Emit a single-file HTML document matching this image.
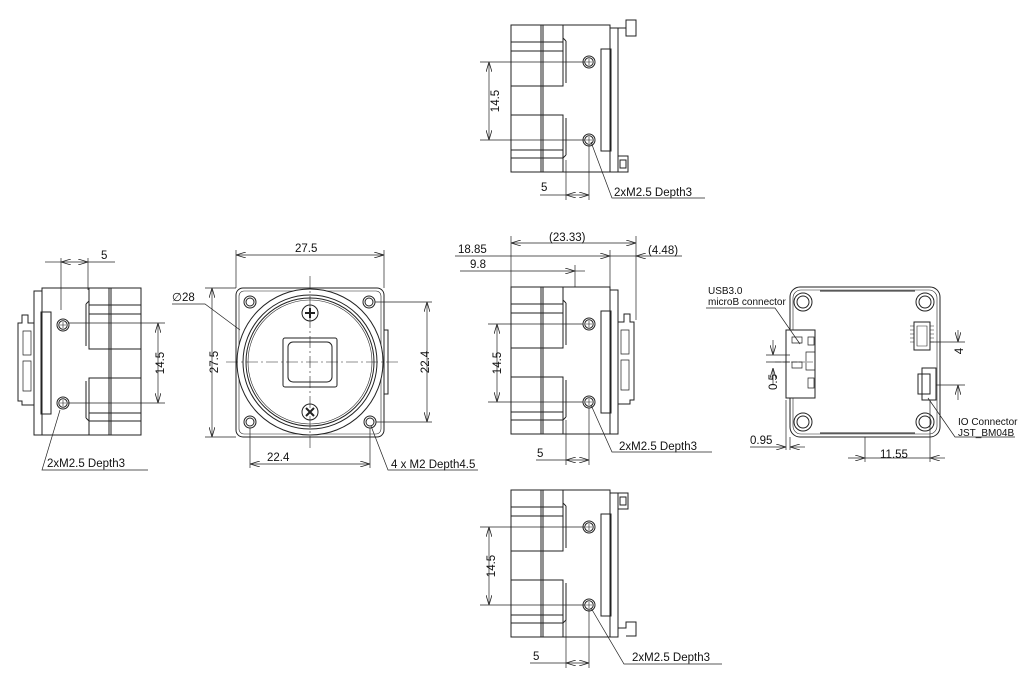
<!DOCTYPE html>
<html><head><meta charset="utf-8"><style>
body{margin:0;background:#fff}
svg{display:block}
text{font-family:"Liberation Sans",sans-serif;font-size:11.5px;fill:#111}
</style></head><body>
<svg width="1030" height="700" viewBox="0 0 1030 700" xmlns="http://www.w3.org/2000/svg">
<defs>
<marker id="a" viewBox="0 0 10 6" refX="10" refY="3" markerWidth="10" markerHeight="6" orient="auto-start-reverse" markerUnits="userSpaceOnUse"><path d="M0,0L10,3L0,6" fill="none" stroke="#222" stroke-width="0.8"/></marker>
<g id="side" fill="none" stroke="#222" stroke-width="1">
<rect x="511" y="287" width="99" height="147" fill="#fff"/>
<line x1="541" y1="287" x2="541" y2="434"/><line x1="543" y1="287" x2="543" y2="434"/>
<polyline points="563,287 563,348 511,348"/>
<polyline points="563,434 563,377 511,377"/>
<line x1="563" y1="300" x2="566" y2="303"/><line x1="563" y1="420" x2="566" y2="417"/>
<line x1="566" y1="303" x2="566" y2="345"/><line x1="566" y1="380" x2="566" y2="417"/>
<line x1="511" y1="304" x2="563" y2="304"/><line x1="511" y1="313" x2="563" y2="313"/>
<line x1="511" y1="412" x2="563" y2="412"/><line x1="511" y1="420" x2="563" y2="420"/>
<rect x="601" y="311" width="10" height="102"/>
<rect x="610" y="290" width="8" height="144"/>
<circle cx="589" cy="324" r="6"/><circle cx="589" cy="324" r="4.2"/>
<circle cx="589" cy="402" r="6"/><circle cx="589" cy="402" r="4.2"/>
<path d="M586,324h6M589,321v6M586,402h6M589,399v6" stroke-width="0.6"/>
</g>
<g id="conn" fill="none" stroke="#222" stroke-width="1">
<path d="M618,322h6v-8h6v8h4v78h-4v4h-12z"/>
<path d="M621,330h8v24h-8zM621,360h8v30h-8z" stroke-width="0.7"/>
</g>
</defs>

<!-- center side view -->
<use href="#side"/><use href="#conn"/>
<!-- top side view -->
<g transform="translate(0,-262)"><use href="#side"/>
<path d="M618,290h8v-8h10v16h-10v-8" fill="none" stroke="#222"/>
<path d="M618,418h10v16h-10z M620,422h6v8h-6z" fill="none" stroke="#222"/></g>
<!-- bottom side view -->
<g transform="translate(0,203)"><use href="#side"/>
<path d="M618,290h10v16h-10z M620,294h6v8h-6z" fill="none" stroke="#222"/>
<path d="M618,425h8v-6h10v14h-10" fill="none" stroke="#222"/></g>
<!-- left side view (mirrored) -->
<g transform="translate(652,1) scale(-1,1)"><use href="#side"/><use href="#conn"/></g>

<!-- front view -->
<g fill="none" stroke="#222" stroke-width="1">
<rect x="236" y="288" width="148" height="149" rx="7" fill="#fff"/>
<rect x="239" y="291" width="142" height="143" rx="5" stroke-width="0.6"/>
<circle cx="310" cy="362" r="73" fill="#fff"/>
<circle cx="310" cy="362" r="67"/><circle cx="310" cy="362" r="64"/><circle cx="310" cy="362" r="62" stroke-width="0.6"/>
<rect x="283" y="338" width="54" height="49" rx="2"/>
<rect x="288" y="342" width="44" height="40" rx="5"/>
<circle cx="310" cy="313" r="8"/><path d="M305,313h10M310,308v10" stroke-width="2"/>
<circle cx="310" cy="412" r="8"/><path d="M306,408l8,8M314,408l-8,8" stroke-width="2"/>
<circle cx="250" cy="302" r="6"/><circle cx="250" cy="302" r="4"/>
<circle cx="369" cy="302" r="6"/><circle cx="369" cy="302" r="4"/>
<circle cx="250" cy="422" r="6"/><circle cx="250" cy="422" r="4"/>
<circle cx="370" cy="422" r="6"/><circle cx="370" cy="422" r="4"/>
<rect x="384" y="330" width="4" height="64"/>
<path d="M226,362H398M310,276V450" stroke-width="0.6" stroke-dasharray="12,3,2,3"/>
</g>

<!-- back view -->
<g fill="none" stroke="#222" stroke-width="1">
<rect x="790" y="287" width="150" height="150" rx="10"/>
<rect x="793" y="290" width="144" height="144" rx="8" stroke-width="0.6"/>
<line x1="820" y1="291" x2="915" y2="291"/><line x1="820" y1="433" x2="915" y2="433"/>
<circle cx="803" cy="302" r="9"/><circle cx="803" cy="302" r="6"/>
<circle cx="925" cy="302" r="9"/><circle cx="925" cy="302" r="6"/>
<circle cx="803" cy="422" r="9"/><circle cx="803" cy="422" r="6"/>
<circle cx="925" cy="422" r="9"/><circle cx="925" cy="422" r="6"/>
<rect x="786" y="330" width="29" height="68" fill="#fff"/>
<path d="M792,337h10v6h-10zM792,362h10v6h-10zM808,337h6v8h-6zM808,378h6v10h-6zM806,352h9v18h-9z" stroke-width="0.7"/>
<rect x="914" y="322" width="16" height="28"/><path d="M917,326h10v20h-10z" stroke-width="0.6"/>
<path d="M910,326h4M910,330h4M910,334h4M910,338h4M910,342h4M930,326h4M930,330h4M930,334h4M930,338h4M930,342h4" stroke-width="0.6"/>
<rect x="922" y="368" width="14" height="32"/><rect x="918" y="374" width="12" height="20"/>
<path d="M775,362h40" stroke-width="0.5" stroke-dasharray="6,2"/>
</g>

<!-- dimensions -->
<g fill="none" stroke="#222" stroke-width="0.7">
<!-- top view -->
<line x1="480" y1="62" x2="585" y2="62"/><line x1="480" y1="140" x2="585" y2="140"/>
<line x1="489" y1="62" x2="489" y2="140" marker-start="url(#a)" marker-end="url(#a)"/>
<line x1="566" y1="160" x2="566" y2="200"/><line x1="589" y1="145" x2="589" y2="200"/>
<line x1="540" y1="195" x2="566" y2="195"/><line x1="566" y1="195" x2="589" y2="195" marker-start="url(#a)" marker-end="url(#a)"/>
<polyline points="591,142 612,198 705,198"/>
<!-- center view -->
<line x1="511" y1="287" x2="511" y2="236"/><line x1="636" y1="320" x2="636" y2="236"/><line x1="610" y1="287" x2="610" y2="250"/><line x1="575" y1="287" x2="575" y2="265"/>
<line x1="511" y1="243" x2="636" y2="243" marker-start="url(#a)" marker-end="url(#a)"/>
<line x1="455" y1="256" x2="610" y2="256" marker-end="url(#a)"/><line x1="610" y1="256" x2="636" y2="256"/>
<line x1="636" y1="256" x2="682" y2="256" marker-start="url(#a)"/>
<line x1="460" y1="271" x2="575" y2="271" marker-end="url(#a)"/><line x1="575" y1="271" x2="585" y2="271"/>
<line x1="488" y1="324" x2="583" y2="324"/><line x1="488" y1="402" x2="583" y2="402"/>
<line x1="497" y1="324" x2="497" y2="402" marker-start="url(#a)" marker-end="url(#a)"/>
<line x1="566" y1="420" x2="566" y2="465"/><line x1="589" y1="408" x2="589" y2="465"/>
<line x1="536" y1="460" x2="566" y2="460"/><line x1="566" y1="460" x2="589" y2="460" marker-start="url(#a)" marker-end="url(#a)"/>
<polyline points="591,405 612,452 712,452"/>
<!-- bottom view -->
<line x1="480" y1="527" x2="585" y2="527"/><line x1="480" y1="605" x2="585" y2="605"/>
<line x1="489" y1="527" x2="489" y2="605" marker-start="url(#a)" marker-end="url(#a)"/>
<line x1="566" y1="620" x2="566" y2="668"/><line x1="589" y1="610" x2="589" y2="668"/>
<line x1="530" y1="663" x2="566" y2="663"/><line x1="566" y1="663" x2="589" y2="663" marker-start="url(#a)" marker-end="url(#a)"/>
<polyline points="591,608 624,664 722,664"/>
<!-- left view -->
<line x1="61" y1="310" x2="61" y2="258"/><line x1="88" y1="290" x2="88" y2="258"/>
<line x1="45" y1="262" x2="61" y2="262"/><line x1="61" y1="262" x2="88" y2="262" marker-start="url(#a)" marker-end="url(#a)"/><line x1="88" y1="262" x2="115" y2="262"/>
<line x1="68" y1="323" x2="165" y2="323"/><line x1="68" y1="403" x2="165" y2="403"/>
<line x1="158" y1="323" x2="158" y2="403" marker-start="url(#a)" marker-end="url(#a)"/>
<polyline points="60,410 42,470 148,470"/>
<!-- front view -->
<line x1="236" y1="288" x2="236" y2="250"/><line x1="384" y1="288" x2="384" y2="250"/>
<line x1="236" y1="255" x2="384" y2="255" marker-start="url(#a)" marker-end="url(#a)"/>
<line x1="236" y1="288" x2="205" y2="288"/><line x1="236" y1="437" x2="205" y2="437"/>
<line x1="212" y1="288" x2="212" y2="437" marker-start="url(#a)" marker-end="url(#a)"/>
<line x1="250" y1="428" x2="250" y2="468"/><line x1="370" y1="428" x2="370" y2="468"/>
<line x1="250" y1="464" x2="370" y2="464" marker-start="url(#a)" marker-end="url(#a)"/>
<line x1="375" y1="302" x2="432" y2="302"/><line x1="376" y1="422" x2="432" y2="422"/>
<line x1="427" y1="302" x2="427" y2="422" marker-start="url(#a)" marker-end="url(#a)"/>
<polyline points="172,304 205,304 240,330"/>
<polyline points="371,426 388,470 478,470"/>
<!-- back view -->
<polyline points="706,308 775,308 800,344"/>
<line x1="786" y1="400" x2="786" y2="450"/><line x1="790" y1="437" x2="790" y2="450"/>
<line x1="750" y1="447" x2="786" y2="447" marker-end="url(#a)"/><line x1="790" y1="447" x2="805" y2="447" marker-start="url(#a)"/>
<line x1="773" y1="340" x2="773" y2="355" marker-end="url(#a)"/><line x1="773" y1="368" x2="773" y2="385" marker-start="url(#a)"/>
<line x1="766" y1="355" x2="790" y2="355"/><line x1="766" y1="362" x2="790" y2="362"/>
<line x1="930" y1="342" x2="965" y2="342"/><line x1="936" y1="385" x2="965" y2="385"/>
<line x1="958" y1="330" x2="958" y2="342" marker-end="url(#a)"/><line x1="958" y1="385" x2="958" y2="400" marker-start="url(#a)"/>
<line x1="865" y1="437" x2="865" y2="462"/><line x1="930" y1="400" x2="930" y2="462"/>
<line x1="848" y1="458" x2="865" y2="458" marker-end="url(#a)"/><line x1="865" y1="458" x2="930" y2="458"/><line x1="930" y1="458" x2="945" y2="458" marker-start="url(#a)"/>
<polyline points="928,398 955,437 1015,437"/>
</g>

<g>
<text x="488" y="112" transform="rotate(-90 488 101)" text-anchor="middle">14.5</text>
<text x="541" y="191">5</text>
<text x="614" y="196">2xM2.5 Depth3</text>
<text x="549" y="241">(23.33)</text>
<text x="648" y="254">(4.48)</text>
<text x="458" y="253">18.85</text>
<text x="470" y="268">9.8</text>
<text x="490" y="374" transform="rotate(-90 490 363)" text-anchor="middle">14.5</text>
<text x="537" y="457">5</text>
<text x="619" y="450">2xM2.5 Depth3</text>
<text x="484" y="577" transform="rotate(-90 484 566)" text-anchor="middle">14.5</text>
<text x="533" y="660">5</text>
<text x="632" y="661">2xM2.5 Depth3</text>
<text x="101" y="259">5</text>
<text x="153" y="374" transform="rotate(-90 153 363)" text-anchor="middle">14.5</text>
<text x="47" y="467">2xM2.5 Depth3</text>
<text x="295" y="252">27.5</text>
<text x="207" y="373" transform="rotate(-90 207 362)" text-anchor="middle">27.5</text>
<text x="267" y="461">22.4</text>
<text x="418" y="373" transform="rotate(-90 418 362)" text-anchor="middle">22.4</text>
<text x="172" y="301">∅28</text>
<text x="391" y="468">4 x M2 Depth4.5</text>
<text x="708" y="294" style="font-size:10px">USB3.0</text>
<text x="708" y="305" style="font-size:10px">microB connector</text>
<text x="769" y="390" transform="rotate(-90 769 382)" text-anchor="middle">0.5</text>
<text x="957" y="357" transform="rotate(-90 957 351)" text-anchor="middle">4</text>
<text x="750" y="444">0.95</text>
<text x="880" y="458">11.55</text>
<text x="958" y="425" style="font-size:10px">IO Connector</text>
<text x="958" y="436" style="font-size:10px">JST_BM04B</text>
</g>
</svg>
</body></html>
